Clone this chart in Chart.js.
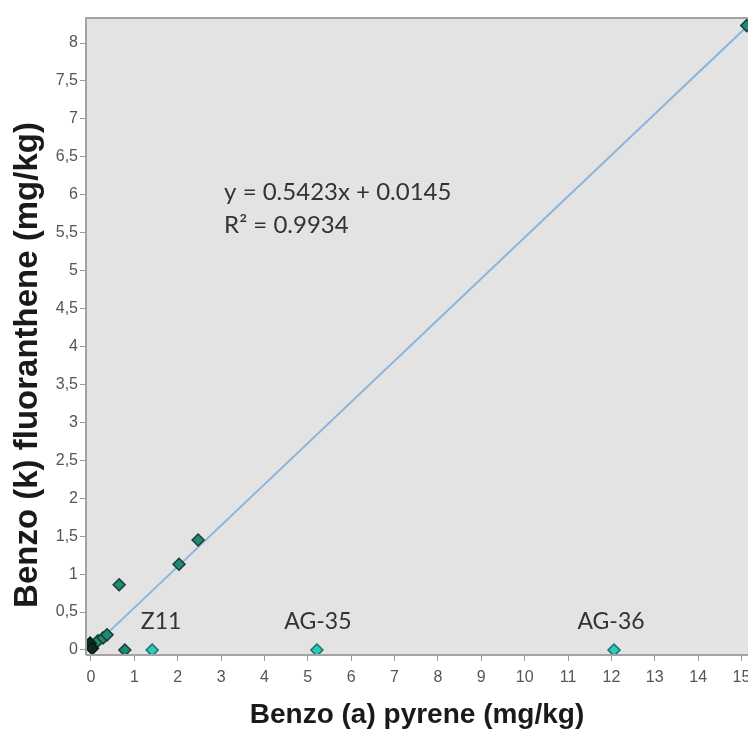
<!DOCTYPE html>
<html>
<head>
<meta charset="utf-8">
<script src="https://cdn.jsdelivr.net/npm/chart.js@4.4.1/dist/chart.umd.min.js"></script>
<style>
  html, body { margin: 0; padding: 0; background: #fff; }
  #wrap { width: 748px; height: 729px; }
</style>
</head>
<body>
<div id="wrap"><canvas id="scatterChart"></canvas></div>
<script>
// samples: Benzo(a)pyrene (x) vs Benzo(k)fluoranthene (y), mg/kg
const bapValues = [0.02, 0.16, 0.28, 0.37, 0.65, 0.78, 2.03, 2.47, 15.12];
const bkfValues = [0.03, 0.12, 0.16, 0.20, 0.86, 0.00, 1.13, 1.45, 8.23];

// very dark points sitting on the origin
const originX = [-0.02, 0.03];
const originY = [0.09, 0.02];

// outliers left out of the regression
const outlierNames = ["Z11", "AG-35", "AG-36"];
const outlierX = [1.41, 5.21, 12.06];
const outlierY = [0, 0, 0];

// regression line y = 0.5423x + 0.0145
const trendX = [0.0, 15.15];
const trendY = [0.0145, 8.23];
const equationText = "y = 0.5423x + 0.0145";
const r2Text = "R² = 0.9934";

const xTicks = [0,1,2,3,4,5,6,7,8,9,10,11,12,13,14,15];
const yTicks = [0,0.5,1,1.5,2,2.5,3,3.5,4,4.5,5,5.5,6,6.5,7,7.5,8];

const xTitle = "Benzo (a) pyrene (mg/kg)";
const yTitle = "Benzo (k) fluoranthene (mg/kg)";

function toPoints(xs, ys) {
    return xs.map((x, i) => ({ x: x, y: ys[i] }));
}

// grey plot area + frame
const plotBackground = {
    id: "plotBackground",
    beforeDraw(chart) {
        const { ctx, chartArea: a } = chart;
        ctx.save();
        ctx.fillStyle = "#e3e3e3";
        ctx.fillRect(a.left, a.top, a.right - a.left, a.bottom - a.top);
        ctx.restore();
    },
    afterDatasetsDraw(chart) {
        const { ctx, chartArea: a } = chart;
        ctx.save();
        ctx.strokeStyle = "#a3a3a3";
        ctx.lineWidth = 2;
        ctx.beginPath();
        ctx.moveTo(a.left, a.bottom);
        ctx.lineTo(a.left, a.top);
        ctx.lineTo(a.right, a.top);
        ctx.moveTo(a.left, a.bottom);
        ctx.lineTo(a.right, a.bottom);
        ctx.stroke();
        ctx.restore();
    }
};

// sample names, the equation and the y axis title (sits a bit low in the original)
const textLabels = {
    id: "textLabels",
    afterDraw(chart) {
        const { ctx, scales } = chart;
        const nameShift = [9, 1, -3];
        ctx.save();
        ctx.fillStyle = "#333";
        ctx.font = "23px Lato, 'Open Sans', sans-serif";
        ctx.textAlign = "center";
        ctx.textBaseline = "middle";
        const meta = chart.getDatasetMeta(3);
        meta.data.forEach((pt, i) => {
            ctx.fillText(outlierNames[i], pt.x + nameShift[i], pt.y - 28);
        });
        ctx.textAlign = "left";
        ctx.font = "24px Lato, 'Open Sans', sans-serif";
        const ex = scales.x.getPixelForValue(3.07);
        ctx.fillText(equationText, ex, scales.y.getPixelForValue(6.03));
        ctx.fillText(r2Text, ex, scales.y.getPixelForValue(5.6));

        ctx.translate(28, 365);
        ctx.rotate(-Math.PI / 2);
        ctx.textAlign = "center";
        ctx.fillStyle = "#1a1a1a";
        ctx.font = "bold 33px 'Liberation Sans', Arial, sans-serif";
        ctx.fillText(yTitle, 0, 0);
        ctx.restore();
    }
};

const ctx = document.getElementById("scatterChart").getContext("2d");
new Chart(ctx, {
    type: "scatter",
    data: {
        datasets: [
            {
                type: "line",
                data: toPoints(trendX, trendY),
                borderColor: "#8db5d9",
                borderWidth: 2,
                pointRadius: 0,
                fill: false,
                order: 5
            },
            {
                data: toPoints(bapValues, bkfValues),
                pointStyle: "rectRot",
                pointRadius: 6,
                backgroundColor: "#1f8a72",
                borderColor: "#1b3d35",
                borderWidth: 1.5,
                order: 2
            },
            {
                data: toPoints(originX, originY),
                pointStyle: "rectRot",
                pointRadius: 6,
                backgroundColor: "#0f2a22",
                borderColor: "#0a1a15",
                borderWidth: 1.5,
                order: 1
            },
            {
                data: toPoints(outlierX, outlierY),
                pointStyle: "rectRot",
                pointRadius: 6,
                backgroundColor: "#2cc9bf",
                borderColor: "#1d6e69",
                borderWidth: 1.5,
                order: 1
            }
        ]
    },
    options: {
        responsive: true,
        maintainAspectRatio: false,
        animation: false,
        layout: { autoPadding: false, padding: { top: 18, right: 0, left: 0, bottom: 0 } },
        plugins: {
            legend: { display: false },
            tooltip: { enabled: false }
        },
        scales: {
            x: {
                type: "linear",
                min: -0.115,
                max: 15.15,
                afterFit: s => { s.height = 74; s.paddingRight = 0; s.paddingLeft = 0; },
                afterBuildTicks: s => { s.ticks = xTicks.map(v => ({ value: v })); },
                grid: { drawOnChartArea: false, drawTicks: true, tickLength: 6, color: "#9a9a9a" },
                border: { display: false },
                ticks: {
                    padding: 7,
                    color: "#555",
                    font: { family: "'Liberation Sans', Arial, sans-serif", size: 16 },
                    maxRotation: 0,
                    autoSkip: false
                },
                title: {
                    display: true,
                    text: xTitle,
                    color: "#1a1a1a",
                    padding: { top: 0, bottom: 0 },
                    font: { family: "'Liberation Sans', Arial, sans-serif", size: 28, weight: "bold", lineHeight: 1 }
                }
            },
            y: {
                type: "linear",
                min: -0.066,
                max: 8.33,
                afterFit: s => { s.width = 86; s.paddingTop = 0; s.paddingBottom = 0; },
                afterBuildTicks: s => { s.ticks = yTicks.map(v => ({ value: v })); },
                grid: { drawOnChartArea: false, drawTicks: true, tickLength: 6, color: "#9a9a9a" },
                border: { display: false },
                ticks: {
                    padding: 2,
                    color: "#555",
                    font: { family: "'Liberation Sans', Arial, sans-serif", size: 16 },
                    autoSkip: false,
                    callback: v => String(v).replace(".", ",")
                },
                title: { display: false }
            }
        }
    },
    plugins: [plotBackground, textLabels]
});
</script>
</body>
</html>
